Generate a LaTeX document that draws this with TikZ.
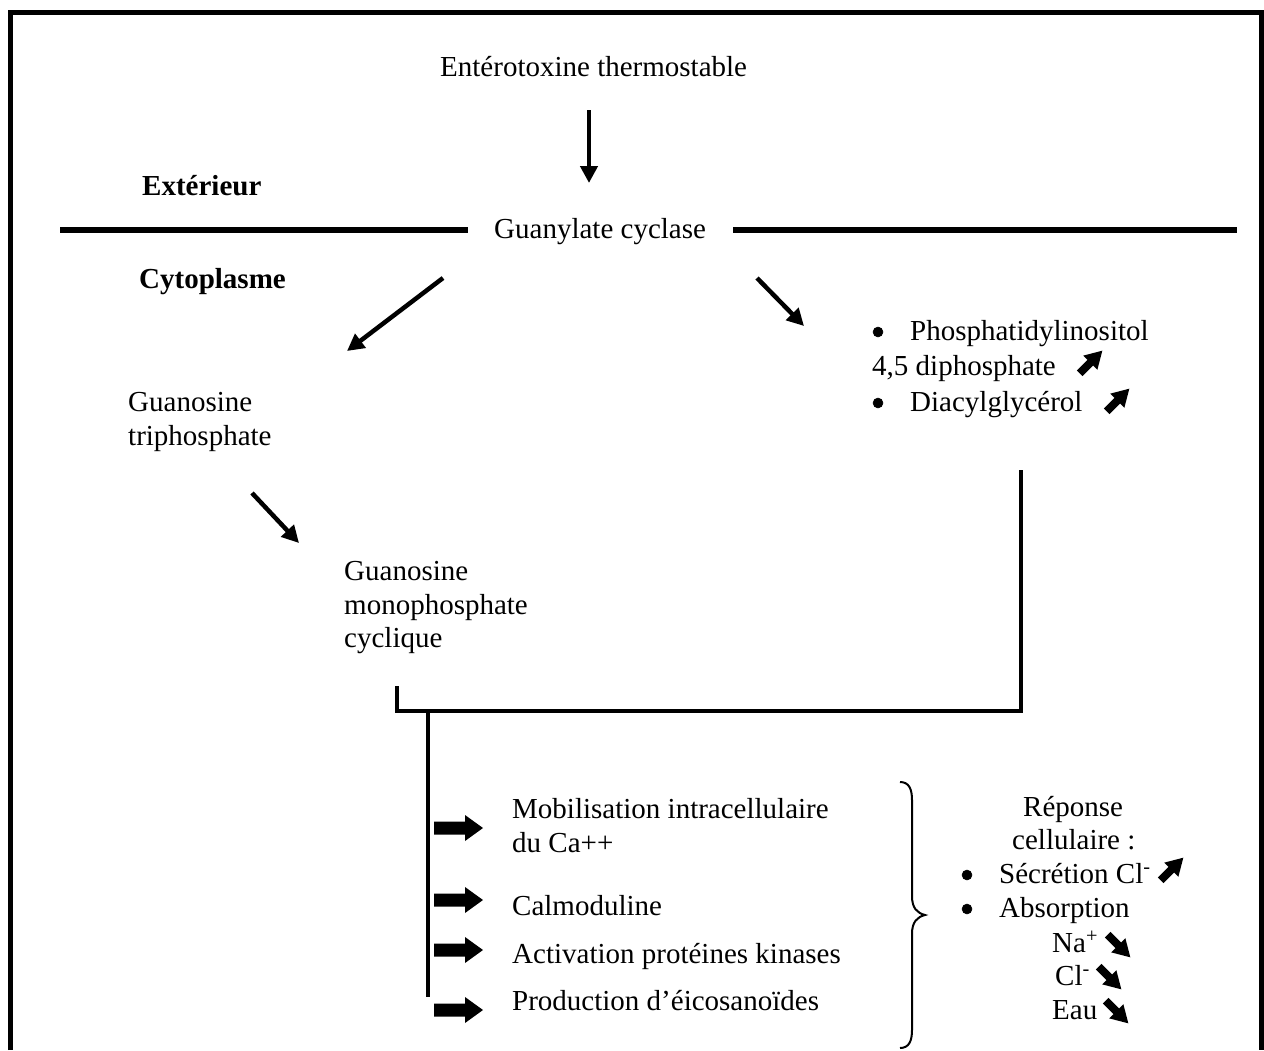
\documentclass[tikz,border=0pt]{standalone}
\usepackage{fontspec}
\setmainfont{Liberation Serif}
\usetikzlibrary{arrows.meta}
\begin{document}
\begin{tikzpicture}[x=1pt,y=-1pt,
  font=\fontsize{29}{33.5}\selectfont,
  lbl/.style={anchor=base west, inner sep=0pt},
  frameline/.style={line width=5pt},
  membrane/.style={line width=6pt},
  link/.style={line width=4.5pt, line join=miter},
  flow/.style={line width=4.5pt, -{Triangle[length=17pt,width=17pt]}},
  bracestyle/.style={line width=2pt},
  dot/.style={circle, draw=black, fill=black, line width=0.5pt, inner sep=0pt, minimum size=10pt},
  fatarr/.pic={\fill (-16,-4) -- (-1,-4) -- (-1,-10) -- (16,0) -- (-1,10) -- (-1,4) -- (-16,4) -- cycle;},
  blockarr/.pic={\fill (0,-6.5) -- (31,-6.5) -- (31,-13) -- (49,0) -- (31,13) -- (31,6.5) -- (0,6.5) -- cycle;}
]
\useasboundingbox (0,0) rectangle (1264,1050);
\fill[white] (0,0) rectangle (1264,1050);

% frame (open at the bottom)
\draw[frameline] (10,1050) -- (10,12) -- (1261.5,12) -- (1261.5,1050);

% membrane
\draw[membrane] (60,230) -- (468,230);
\draw[membrane] (733,230) -- (1237,230);

% texts
\node[lbl] (ent) at (440,76) {Entérotoxine thermostable};
\node[lbl,font=\fontsize{29}{33.5}\selectfont\bfseries] (ext) at (142,195) {Extérieur};
\node[lbl] (gc) at (494,238) {Guanylate cyclase};
\node[lbl,font=\fontsize{29}{33.5}\selectfont\bfseries] (cyto) at (139,288) {Cytoplasme};

\node[lbl] (gtpA) at (128,411) {Guanosine};
\node[lbl] (gtpB) at (128,445) {triphosphate};

\node[lbl] (gmpA) at (344,580) {Guanosine};
\node[lbl] (gmpB) at (344,614) {monophosphate};
\node[lbl] (gmpC) at (344,647) {cyclique};

\node[dot] (bpip) at (878,332) {};
\node[lbl] (pipA) at (910,340) {Phosphatidylinositol};
\node[lbl] (pipB) at (872,375) {4,5 diphosphate};
\node[dot] (bdag) at (878,403) {};
\node[lbl] (dag) at (910,411) {Diacylglycérol};

\node[lbl] (mobA) at (512,818) {Mobilisation intracellulaire};
\node[lbl] (mobB) at (512,852) {du Ca++};
\node[lbl] (calm) at (512,915) {Calmoduline};
\node[lbl] (act) at (512,963) {Activation protéines kinases};
\node[lbl] (prod) at (512,1010) {Production d’éicosanoïdes};

\node[lbl] (repA) at (1023,816) {Réponse};
\node[lbl] (repB) at (1012,849) {cellulaire :};
\node[dot] (bsec) at (967,875) {};
\node[lbl] (secr) at (999,883) {Sécrétion Cl\textsuperscript{-}};
\node[dot] (babs) at (967,909) {};
\node[lbl] (absn) at (999,917) {Absorption};
\node[lbl] (na) at (1052,952) {Na\textsuperscript{+}};
\node[lbl] (cl) at (1055,985) {Cl\textsuperscript{-}};
\node[lbl] (eau) at (1052,1019) {Eau};

% bold little arrows (increase / decrease)
\pic[rotate=45] at (1091,362) {fatarr};
\pic[rotate=45] at (1118,400) {fatarr};
\pic[rotate=45] at (1172,869) {fatarr};
\pic[rotate=-45] at (1119,946) {fatarr};
\pic[rotate=-45] at (1110,978) {fatarr};
\pic[rotate=-45] at (1117,1012) {fatarr};

% block arrows
\pic at (434,828) {blockarr};
\pic at (434,900) {blockarr};
\pic at (434,950) {blockarr};
\pic at (434,1010) {blockarr};

% flow arrows
\coordinate (a1s) at (589,110); \coordinate (a1e) at (589,183);
\coordinate (a2s) at (443,278); \coordinate (a2e) at (347,351);
\coordinate (a3s) at (757,278); \coordinate (a3e) at (804,326);
\coordinate (a4s) at (252,493); \coordinate (a4e) at (299,543);
\draw[flow] (a1s) -- (a1e);
\draw[flow] (a2s) -- (a2e);
\draw[flow] (a3s) -- (a3e);
\draw[flow] (a4s) -- (a4e);

% bracket joining the two pathways
\coordinate (bl) at (397,686);
\coordinate (br) at (1021,470);
\coordinate (tj) at (428,711);
\coordinate (tb) at (428,997);
\draw[link] (bl) -- (397,711) -- (1021,711) -- (br);
\draw[link] (tj) -- (tb);

% brace
\draw[bracestyle] (900,782) .. controls (909,782) and (912,789) .. (912,800)
  -- (912,896) .. controls (912,908) and (917,913) .. (925,915)
  .. controls (917,917) and (912,922) .. (912,934)
  -- (912,1030) .. controls (912,1041) and (909,1048) .. (900,1048);
\end{tikzpicture}
\end{document}
